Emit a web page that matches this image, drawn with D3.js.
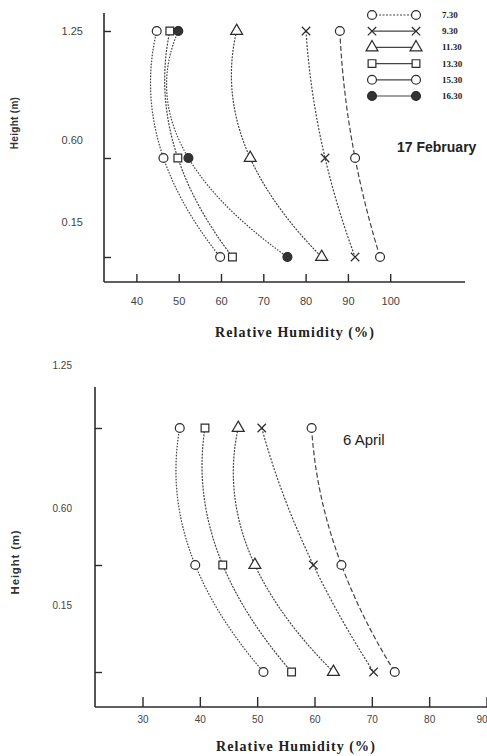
<!DOCTYPE html>
<html>
<head>
<meta charset="utf-8">
<script src="https://cdn.jsdelivr.net/npm/d3@7"></script>
<style>
  body { margin: 0; background: #fff; }
  svg { display: block; }
</style>
</head>
<body>
<svg id="fig" width="487" height="756"></svg>
<script>
// measuring heights (m), top to bottom
const heights = [1.25, 0.60, 0.15];

// 17 February: relative humidity (%) at 1.25, 0.60, 0.15 m
const febTimes = ["7.30", "9.30", "11.30", "13.30", "15.30", "16.30"];
const feb0730 = [88.1, 91.7, 97.6];
const feb0930 = [80.1, 84.6, 91.7];
const feb1130 = [63.7, 66.9, 83.8];
const feb1330 = [47.9, 49.8, 62.7];
const feb1530 = [44.8, 46.4, 59.8];
const feb1630 = [49.9, 52.3, 75.7];
const febTicks = [40, 50, 60, 70, 80, 90, 100];

// 6 April
const aprTimes = ["7.30", "9.30", "11.30", "13.30", "15.30"];
const apr0730 = [59.5, 64.7, 74.0];
const apr0930 = [50.8, 59.8, 70.3];
const apr1130 = [46.7, 49.6, 63.3];
const apr1330 = [40.9, 44.0, 56.0];
const apr1530 = [36.5, 39.2, 51.1];
const aprTicks = [30, 40, 50, 60, 70, 80, 90];

const heightTicks = [1.25, 0.60, 0.15];

// marker + line look per time of day
const style = {
    "7.30":  { sym: "circle",   fill: "#fff", dash: "5,2.5", legendDash: "2,1.5" },
    "9.30":  { sym: "times",    fill: "none", dash: "2,1.5", legendDash: null },
    "11.30": { sym: "triangle", fill: "#fff", dash: "2,1.2", legendDash: null },
    "13.30": { sym: "square",   fill: "#fff", dash: "2,1.2", legendDash: null },
    "15.30": { sym: "circle",   fill: "#fff", dash: "1.6,1.4", legendDash: null },
    "16.30": { sym: "circle",   fill: "#333", dash: "1.6,1.4", legendDash: null }
};

const svg = d3.select("#fig");
const ink = "#2b2b2b";

function symbolPath(name) {
    const types = { circle: d3.symbolCircle, square: d3.symbolSquare, triangle: d3.symbolTriangle,
                    times: d3.symbolTimes || d3.symbolCross };
    const sizes = { circle: 62, square: 60, triangle: 62, times: 48 };
    return d3.symbol().type(types[name]).size(sizes[name])();
}

// parabola through three points (like the original trend lines) drawn as one quadratic bezier
function trendPath(pts) {
    const [p0, p1, p2] = pts;
    const t = (p1[1] - p0[1]) / (p2[1] - p0[1]);
    const cx = (p1[0] - (1 - t) * (1 - t) * p0[0] - t * t * p2[0]) / (2 * t * (1 - t));
    const cy = (p0[1] + p2[1]) / 2;
    const p = d3.path();
    p.moveTo(p0[0], p0[1]);
    p.quadraticCurveTo(cx, cy, p2[0], p2[1]);
    return p.toString();
}

function drawMarker(g, name, x, y) {
    const st = style[name];
    g.append("path")
        .attr("d", symbolPath(st.sym))
        .attr("transform", `translate(${x},${y})` + (st.sym === "times" && !d3.symbolTimes ? " rotate(45)" : ""))
        .attr("fill", st.fill)
        .attr("stroke", ink)
        .attr("stroke-width", 1.2);
}

function drawPanel(p) {
    const g = svg.append("g");
    const x = d3.scaleLinear().domain(p.xDomain).range(p.xRange);
    const y = d3.scaleLinear().domain(heights).range(p.yRange);
    const yLab = d3.scaleLinear().domain(heights).range(p.yLabelRange);

    // axis lines
    g.append("line")
        .attr("x1", p.axisLeft).attr("x2", p.axisRight)
        .attr("y1", p.axisBottom).attr("y2", p.axisBottom)
        .attr("stroke", ink).attr("stroke-width", 1.6);
    g.append("line")
        .attr("x1", p.axisLeft).attr("x2", p.axisLeft)
        .attr("y1", p.axisTop).attr("y2", p.axisBottom)
        .attr("stroke", ink).attr("stroke-width", 1.6);

    const xAxis = g.append("g")
        .attr("transform", `translate(0,${p.axisBottom})`)
        .call(d3.axisBottom(x).tickValues(p.ticks).tickSizeInner(-p.xTickLen).tickSizeOuter(0).tickPadding(p.xPad))
        .call(a => a.select(".domain").remove());
    xAxis.selectAll("line").attr("stroke", ink).attr("stroke-width", 1.4);
    xAxis.selectAll("text")
        .attr("fill", "#444")
        .style("font-family", "'Liberation Sans', Arial, sans-serif")
        .style("font-size", p.tickFont + "px");
    // last label runs into the page edge: keep it inside
    if (p.clampLast) {
        xAxis.selectAll(".tick").filter(d => d === p.ticks[p.ticks.length - 1])
            .select("text").attr("text-anchor", "end").attr("x", 487 - x(p.ticks[p.ticks.length - 1]));
    }

    const yAxis = g.append("g")
        .attr("transform", `translate(${p.axisLeft},0)`)
        .call(d3.axisLeft(y).tickValues(heightTicks).tickFormat(d3.format(".2f"))
            .tickSizeInner(-7).tickSizeOuter(0).tickPadding(p.yPad))
        .call(a => a.select(".domain").remove());
    yAxis.selectAll("line").attr("stroke", ink).attr("stroke-width", 1.4);
    // the printed labels sit a little off their ticks in the original
    yAxis.selectAll("text")
        .attr("y", d => yLab(d) - y(d))
        .attr("fill", "#444")
        .style("font-family", "'Liberation Sans', Arial, sans-serif")
        .style("font-size", p.tickFont + "px");

    // axis titles
    g.append("text")
        .attr("transform", `translate(${p.yTitle[0]},${p.yTitle[1]}) rotate(-90)`)
        .attr("text-anchor", "middle")
        .attr("fill", "#333")
        .style("font-family", "'Liberation Sans', Arial, sans-serif")
        .style("font-weight", "bold")
        .style("font-size", p.yTitleFont + "px")
        .style("letter-spacing", p.yTitleSpacing + "px")
        .text("Height (m)");
    g.append("text")
        .attr("x", p.xTitle[0]).attr("y", p.xTitle[1])
        .attr("text-anchor", "middle")
        .attr("fill", "#222")
        .style("font-family", "'Liberation Serif', 'Times New Roman', serif")
        .style("font-weight", "bold")
        .style("font-size", "14px")
        .style("letter-spacing", "1.1px")
        .text("Relative Humidity (%)");

    g.append("text")
        .attr("x", p.date[0]).attr("y", p.date[1])
        .attr("fill", "#222")
        .style("font-family", "'Liberation Sans', Arial, sans-serif")
        .style("font-weight", p.dateWeight)
        .style("font-size", p.dateFont + "px")
        .text(p.dateText);

    // curves then markers
    p.series.forEach((vals, i) => {
        const name = p.times[i];
        const pts = vals.map((v, j) => [x(v), y(heights[j])]);
        g.append("path")
            .attr("d", trendPath(pts))
            .attr("fill", "none")
            .attr("stroke", "#444")
            .attr("stroke-width", 1.2)
            .attr("stroke-dasharray", style[name].dash);
    });
    p.series.forEach((vals, i) => {
        vals.forEach((v, j) => drawMarker(g, p.times[i], x(v), y(heights[j])));
    });
}

drawPanel({
    times: febTimes,
    series: [feb0730, feb0930, feb1130, feb1330, feb1530, feb1630],
    ticks: febTicks,
    xDomain: [40, 100], xRange: [136.4, 390.2],
    yRange: [31, 158, 257], yLabelRange: [31, 140, 222],
    axisLeft: 104, axisRight: 465, axisTop: 13, axisBottom: 282,
    xTickLen: 8, xPad: 15, yPad: 21, tickFont: 11,
    yTitle: [18, 123], yTitleFont: 10, yTitleSpacing: 0.3,
    xTitle: [295, 337],
    date: [397, 152], dateText: "17 February", dateFont: 14, dateWeight: "bold",
    clampLast: false
});

drawPanel({
    times: aprTimes,
    series: [apr0730, apr0930, apr1130, apr1330, apr1530],
    ticks: aprTicks,
    xDomain: [30, 90], xRange: [142.5, 486.5],
    yRange: [428, 565, 672], yLabelRange: [365, 508, 605],
    axisLeft: 95, axisRight: 490, axisTop: 387, axisBottom: 707,
    xTickLen: 10, xPad: 9, yPad: 23, tickFont: 10,
    yTitle: [19, 562], yTitleFont: 11.5, yTitleSpacing: 0.8,
    xTitle: [296, 751],
    date: [343, 445], dateText: "6 April", dateFont: 15, dateWeight: "normal",
    clampLast: true
});

// legend (17 February panel)
const legend = svg.append("g");
const legendY = d3.scalePoint().domain(febTimes).range([15, 96]);
febTimes.forEach(t => {
    const ly = legendY(t);
    legend.append("line")
        .attr("x1", 372).attr("x2", 416).attr("y1", ly).attr("y2", ly)
        .attr("stroke", "#444").attr("stroke-width", 1.2)
        .attr("stroke-dasharray", style[t].legendDash);
    drawMarker(legend, t, 372, ly);
    drawMarker(legend, t, 416, ly);
    legend.append("text")
        .attr("x", 442).attr("y", ly + 3)
        .attr("fill", "#222")
        .style("font-family", "'Liberation Serif', 'Times New Roman', serif")
        .style("font-weight", "bold")
        .style("font-size", "9px")
        .text(t);
});
</script>
</body>
</html>
